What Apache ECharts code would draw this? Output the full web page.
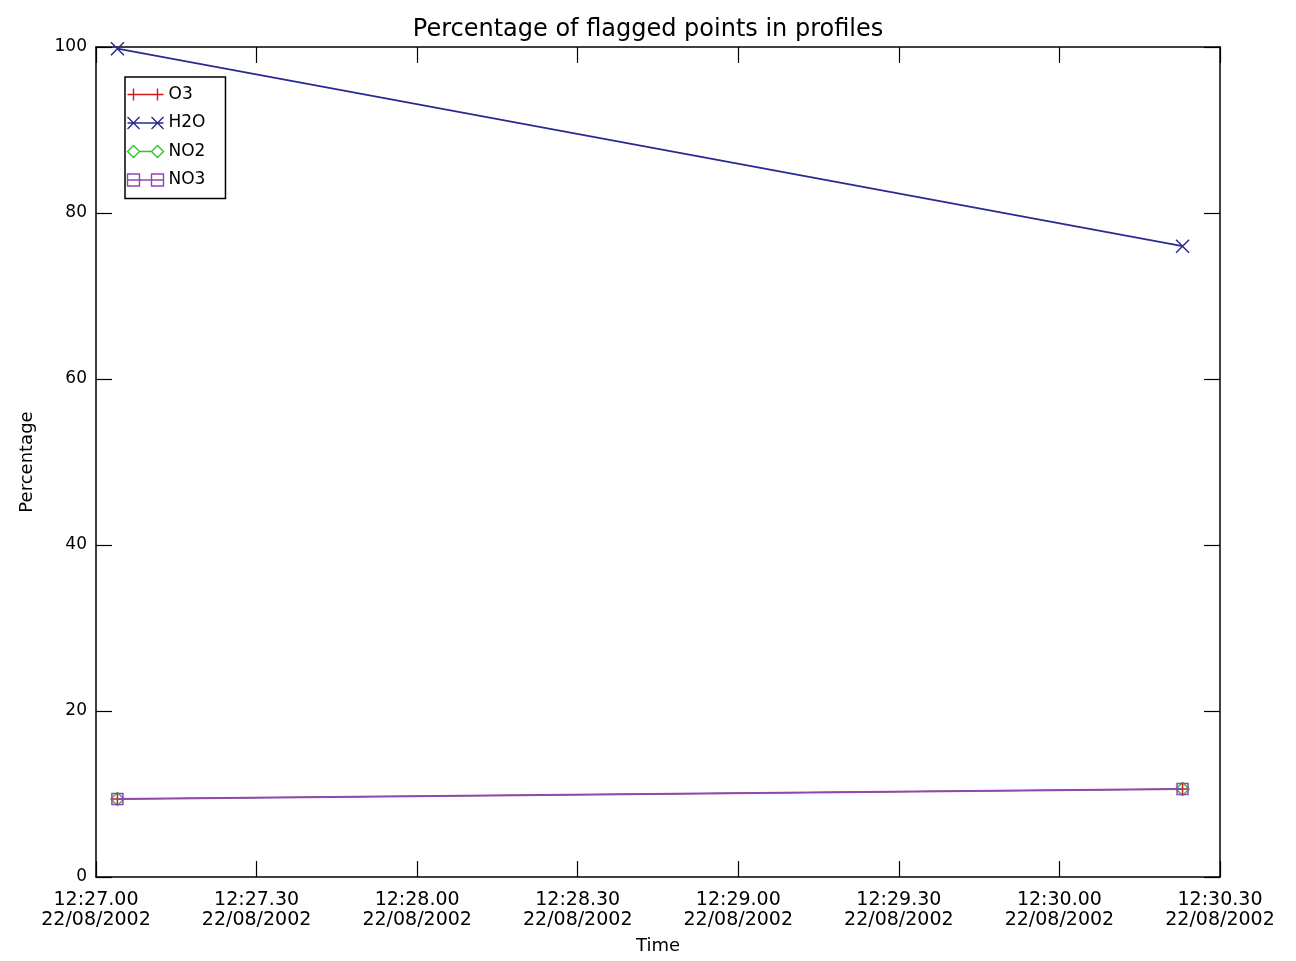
<!DOCTYPE html>
<html><head><meta charset="utf-8">
<script src="https://cdn.jsdelivr.net/npm/echarts@6/dist/echarts.min.js"></script>
<style>html,body{margin:0;padding:0;background:#fff}#c{width:1296px;height:961px}</style>
</head><body><div id="c"></div>
<script>
// seconds after 12:27:00 on 22/08/2002
const times = [4, 203];
const seriesNames = ['O3', 'H2O', 'NO2', 'NO3'];
const o3 = [9.4, 10.6];
const h2o = [99.8, 76];
const no2 = [9.4, 10.6];
const no3 = [9.4, 10.6];
const xTicks = ['12:27.00','12:27.30','12:28.00','12:28.30','12:29.00','12:29.30','12:30.00','12:30.30'];
const dateLabel = '22/08/2002';
const colors = ['#d01818', '#2a2a90', '#30c030', '#9048b0'];

const font = 'DejaVu Sans';
const plusPath = 'path://M0,5L10,5M5,0L5,10';
const crossPath = 'path://M0,0L10,10M10,0L0,10';
const symbols = [plusPath, crossPath, 'diamond', 'rect'];
const values = [o3, h2o, no2, no3];
const legendIcons = [
  'path://M0,6L36,6M6,0L6,12M30,0L30,12',
  'path://M0,6L36,6M0,0L12,12M12,0L0,12M24,0L36,12M36,0L24,12',
  'path://M0,6L6,0L12,6L6,12ZM24,6L30,0L36,6L30,12ZM12,6L24,6',
  'path://M0,0L12,0L12,12L0,12ZM24,0L36,0L36,12L24,12ZM0,6L36,6'
];

const chart = echarts.init(document.getElementById('c'));
const axisLine = {onZero: false, lineStyle: {color: '#000', width: 1.5}};
const tick = {inside: true, length: 16, lineStyle: {color: '#000', width: 1.2}};
chart.setOption({
  backgroundColor: '#fff',
  animation: false,
  title: {text: 'Percentage of flagged points in profiles', left: 'center', top: 13,
    textStyle: {fontFamily: font, fontSize: 24, fontWeight: 'normal', color: '#000'}},
  grid: {left: 96, right: 76, top: 47, bottom: 84},
  legend: {
    left: 125, top: 77, orient: 'vertical', itemGap: 11.5, itemWidth: 36, itemHeight: 12,
    padding: [9, 20, 10, 0],
    borderColor: '#000', borderWidth: 1.5, borderRadius: 0,
    textStyle: {fontFamily: font, fontSize: 17, color: '#000', lineHeight: 17},
    data: seriesNames.map((n, i) => ({
      name: n, icon: legendIcons[i],
      itemStyle: {color: 'none', borderColor: colors[i], borderWidth: 1.4}
    }))
  },
  xAxis: [
    {type: 'value', position: 'bottom', min: 0, max: 210, interval: 30,
      name: 'Time', nameLocation: 'middle', nameGap: 60,
      nameTextStyle: {fontFamily: font, fontSize: 18, color: '#000'},
      axisLine: axisLine, axisTick: tick, splitLine: {show: false},
      axisLabel: {fontFamily: font, fontSize: 19, color: '#000', margin: 13, lineHeight: 20,
        formatter: (v) => xTicks[Math.round(v / 30)] + '\n' + dateLabel}},
    {type: 'value', position: 'top', min: 0, max: 210, interval: 30,
      axisLine: axisLine, axisTick: tick, splitLine: {show: false}, axisLabel: {show: false}}
  ],
  yAxis: [
    {type: 'value', position: 'left', min: 0, max: 100, interval: 20,
      name: 'Percentage', nameLocation: 'middle', nameGap: 60, nameRotate: 90,
      nameTextStyle: {fontFamily: font, fontSize: 18, color: '#000'},
      axisLine: axisLine, axisTick: tick, splitLine: {show: false},
      axisLabel: {fontFamily: font, fontSize: 17, color: '#000', margin: 9}},
    {type: 'value', position: 'right', min: 0, max: 100, interval: 20,
      axisLine: axisLine, axisTick: tick, splitLine: {show: false}, axisLabel: {show: false}}
  ],
  series: seriesNames.map((n, i) => ({
    name: n, type: 'line', xAxisIndex: 0, yAxisIndex: 0,
    data: times.map((t, j) => [t, values[i][j]]),
    symbol: symbols[i], symbolSize: i === 3 ? 11 : 13, showAllSymbol: true,
    lineStyle: {color: colors[i], width: (i === 0 || i === 2) ? 1 : 1.8},
    itemStyle: {color: 'rgba(0,0,0,0)', borderColor: colors[i], borderWidth: 1.5},
    z: 2 + i
  }))
});
</script></body></html>
